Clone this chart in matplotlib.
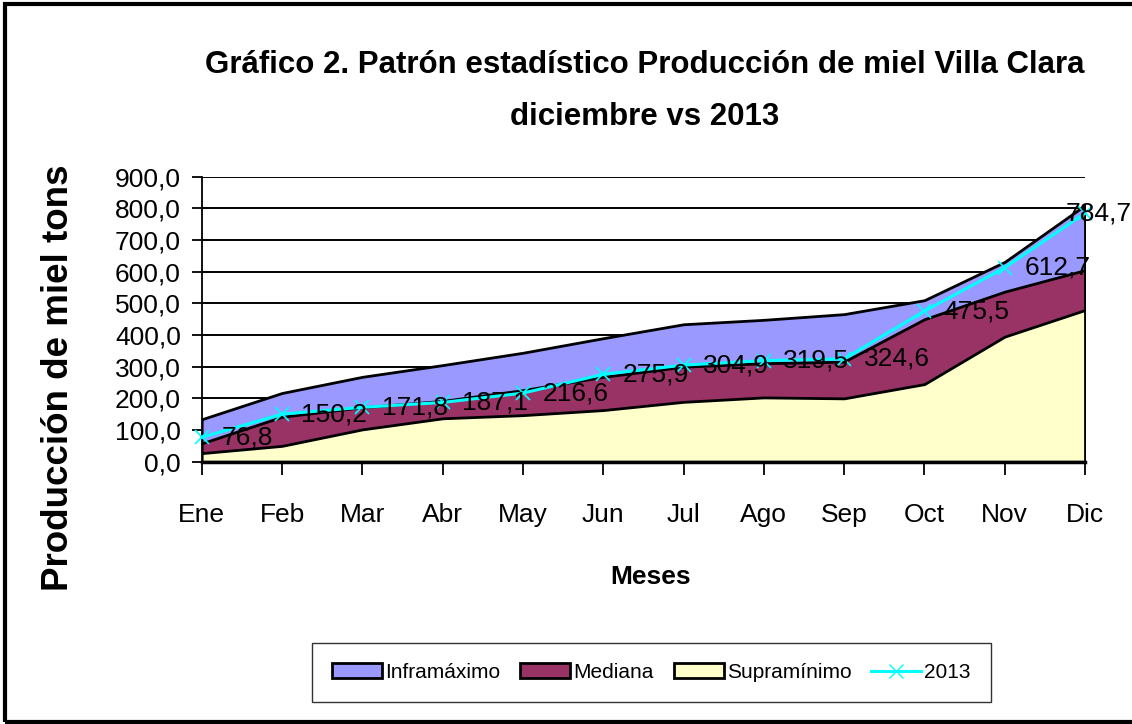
import matplotlib
matplotlib.use('Agg')
import matplotlib.pyplot as plt
from matplotlib.patches import Rectangle, Patch
from matplotlib.lines import Line2D

FONT = 'Liberation Sans'

months = ['Ene', 'Feb', 'Mar', 'Abr', 'May', 'Jun', 'Jul', 'Ago', 'Sep', 'Oct', 'Nov', 'Dic']
inframaximo = [134, 217, 268, 305, 344, 390, 434, 448, 466, 510, 631, 810]
mediana = [58, 142, 172, 192, 226, 268, 300, 311, 316, 450, 537, 605]
supraminimo = [27, 50, 102, 137, 147, 163, 189, 203, 200, 245, 395, 479]
prod_2013 = [76.8, 150.2, 171.8, 187.1, 216.6, 275.9, 304.9, 319.5, 324.6, 475.5, 612.7, 784.7]
y_ticks = [0, 100, 200, 300, 400, 500, 600, 700, 800, 900]

W, H = 1132, 724
fig = plt.figure(figsize=(W / 100, H / 100), dpi=100)
ax = fig.add_axes([201.7 / W, 1 - 461.7 / H, 883.3 / W, 285 / H])

x = list(range(len(months)))
# the three bands are drawn from zero and overlap, largest first
ax.fill_between(x, 0, inframaximo, facecolor='#9999FF', edgecolor='black', linewidth=2, zorder=2)
ax.fill_between(x, 0, mediana, facecolor='#993366', edgecolor='black', linewidth=2, zorder=3)
ax.fill_between(x, 0, supraminimo, facecolor='#FFFFCC', edgecolor='black', linewidth=2, zorder=4)
ax.plot(x, prod_2013, color='#00FFFF', linewidth=2.2, marker='x', markersize=10,
        markeredgewidth=1.2, zorder=5, clip_on=False)

for i, v in enumerate(prod_2013):
    label = f'{v:.1f}'.replace('.', ',')
    dx = 14 if i < len(prod_2013) - 1 else -14
    ax.annotate(label, (i, v), xytext=(dx, 0), textcoords='offset points',
                ha='left', va='center', fontsize=19, family=FONT, zorder=6,
                annotation_clip=False)

ax.set_xlim(0, len(months) - 1)
ax.set_ylim(0, 900)
ax.set_yticks(y_ticks)
ax.set_yticklabels([f'{t:.1f}'.replace('.', ',') for t in y_ticks], family=FONT, fontsize=19)
ax.set_xticks(x)
ax.set_xticklabels(months, family=FONT, fontsize=19)
ax.yaxis.grid(True, color='black', linewidth=1.4, zorder=1)
ax.set_axisbelow(True)
ax.tick_params(axis='y', length=7, width=1.3, pad=8)
ax.tick_params(axis='x', length=9, width=1.3, pad=21)
ax.spines['top'].set_visible(False)
ax.spines['right'].set_visible(False)
ax.spines['bottom'].set_linewidth(2.5)
ax.spines['bottom'].set_zorder(7)
ax.spines['left'].set_linewidth(1.3)

fig.text(645 / W, 1 - 65 / H, 'Gráfico 2. Patrón estadístico Producción de miel Villa Clara',
         ha='center', va='center', fontsize=22.5, family=FONT, fontweight='bold')
fig.text(645 / W, 1 - 117 / H, 'diciembre vs 2013',
         ha='center', va='center', fontsize=22.5, family=FONT, fontweight='bold')
fig.text(651 / W, 1 - 577 / H, 'Meses', ha='center', va='center',
         fontsize=19, family=FONT, fontweight='bold')
fig.text(58 / W, 1 - 378 / H, 'Producción de miel tons', ha='center', va='center',
         rotation=90, fontsize=26.5, family=FONT, fontweight='bold')

handles = [Patch(facecolor='#9999FF', edgecolor='black', linewidth=2),
           Patch(facecolor='#993366', edgecolor='black', linewidth=2),
           Patch(facecolor='#FFFFCC', edgecolor='black', linewidth=2),
           Line2D([], [], color='#00FFFF', linewidth=2.2, marker='x', markersize=10)]
leg = fig.legend(handles, ['Inframáximo', 'Mediana', 'Supramínimo', '2013'],
                 loc='center', bbox_to_anchor=(651.5 / W, 1 - 672.5 / H), ncol=4,
                 prop={'family': FONT, 'size': 15}, frameon=True, fancybox=False,
                 handlelength=2.4, handleheight=0.7, handletextpad=0.15,
                 columnspacing=0.95, borderpad=0.95)
leg.get_frame().set_edgecolor('black')
leg.get_frame().set_linewidth(1)

fig.add_artist(Rectangle((5 / W, 2 / H), 2, 1 - 6 / H, transform=fig.transFigure,
                         fill=False, edgecolor='black', linewidth=3))

fig.savefig('out.png', dpi=100)
